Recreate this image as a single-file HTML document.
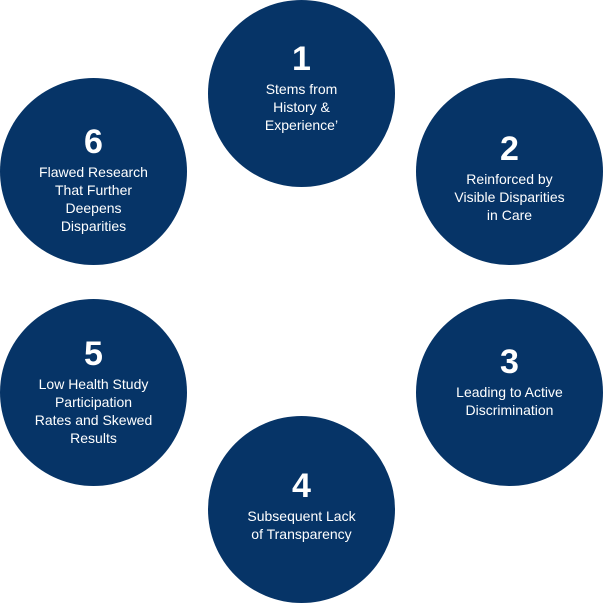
<!DOCTYPE html>
<html><head><meta charset="utf-8"><style>
html,body{margin:0;padding:0;background:#fff;}
body{width:603px;height:603px;position:relative;overflow:hidden;font-family:"Liberation Sans",sans-serif;}
.c{position:absolute;width:187px;height:187px;border-radius:50%;background:#063467;}
.t{position:absolute;width:187px;text-align:center;color:#fff;}
.n{font-size:34px;font-weight:bold;line-height:32px;height:32px;}
.l{font-size:14px;line-height:18px;margin-top:5px;}
</style></head><body>
<div class="c" style="left:208px;top:0px"></div>
<div class="c" style="left:416px;top:78px"></div>
<div class="c" style="left:416px;top:299px"></div>
<div class="c" style="left:208px;top:416px"></div>
<div class="c" style="left:0px;top:299px"></div>
<div class="c" style="left:0px;top:78px"></div>

<div class="t" style="left:208px;top:43px"><div class="n">1</div><div class="l">Stems from<br>History &amp;<br>Experience’</div></div>
<div class="t" style="left:416px;top:133px"><div class="n">2</div><div class="l">Reinforced by<br>Visible Disparities<br>in Care</div></div>
<div class="t" style="left:416px;top:346px"><div class="n">3</div><div class="l">Leading to Active<br>Discrimination</div></div>
<div class="t" style="left:208px;top:470px"><div class="n">4</div><div class="l">Subsequent Lack<br>of Transparency</div></div>
<div class="t" style="left:0px;top:338px"><div class="n">5</div><div class="l">Low Health Study<br>Participation<br>Rates and Skewed<br>Results</div></div>
<div class="t" style="left:0px;top:126px"><div class="n">6</div><div class="l">Flawed Research<br>That Further<br>Deepens<br>Disparities</div></div>
</body></html>
